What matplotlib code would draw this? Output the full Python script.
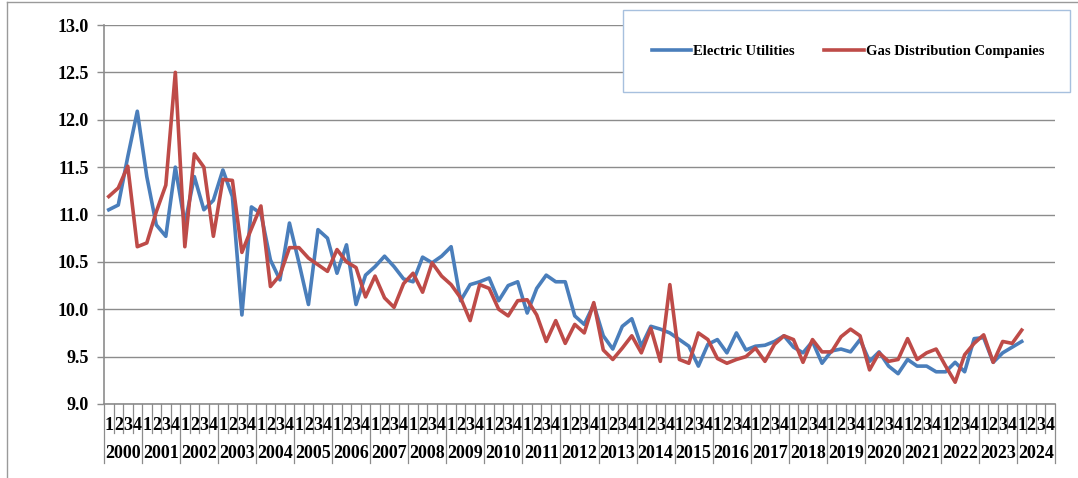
import matplotlib
matplotlib.use("Agg")
import matplotlib.pyplot as plt
from matplotlib.lines import Line2D
from matplotlib.patches import Rectangle
from matplotlib.transforms import blended_transform_factory

years = list(range(2000, 2025))
quarter_labels = ["1", "2", "3", "4"]

# Quarterly averages, 2000 Q1 through 2024 Q1
electric = [
    11.05, 11.10, 11.61, 12.09,
    11.40, 10.89, 10.77, 11.50,
    10.90, 11.40, 11.05, 11.15,
    11.47, 11.19, 9.94, 11.08,
    11.01, 10.52, 10.31, 10.91,
    10.49, 10.05, 10.84, 10.75,
    10.38, 10.68, 10.05, 10.36,
    10.45, 10.56, 10.45, 10.32,
    10.29, 10.55, 10.49, 10.56,
    10.66, 10.09, 10.26, 10.29,
    10.33, 10.09, 10.25, 10.29,
    9.96, 10.22, 10.36, 10.29,
    10.29, 9.93, 9.84, 10.05,
    9.72, 9.58, 9.82, 9.90,
    9.61, 9.82, 9.79, 9.75,
    9.68, 9.61, 9.40, 9.63,
    9.68, 9.54, 9.75, 9.57,
    9.61, 9.62, 9.66, 9.72,
    9.60, 9.54, 9.66, 9.43,
    9.56, 9.58, 9.55, 9.68,
    9.45, 9.55, 9.40, 9.32,
    9.47, 9.40, 9.40, 9.34,
    9.34, 9.44, 9.34, 9.69,
    9.70, 9.44, 9.54, 9.60,
    9.66,
]

gas = [
    11.19, 11.28, 11.51, 10.66,
    10.70, 11.03, 11.31, 12.50,
    10.66, 11.64, 11.50, 10.77,
    11.37, 11.36, 10.60, 10.85,
    11.09, 10.24, 10.36, 10.65,
    10.65, 10.54, 10.47, 10.40,
    10.63, 10.50, 10.44, 10.13,
    10.35, 10.12, 10.02, 10.27,
    10.38, 10.18, 10.49, 10.35,
    10.26, 10.12, 9.88, 10.26,
    10.22, 10.00, 9.93, 10.09,
    10.10, 9.94, 9.66, 9.88,
    9.64, 9.84, 9.75, 10.07,
    9.57, 9.47, 9.59, 9.72,
    9.54, 9.80, 9.45, 10.26,
    9.47, 9.43, 9.75, 9.68,
    9.48, 9.43, 9.47, 9.50,
    9.59, 9.45, 9.63, 9.72,
    9.68, 9.44, 9.68, 9.55,
    9.55, 9.71, 9.79, 9.72,
    9.36, 9.54, 9.45, 9.47,
    9.69, 9.47, 9.54, 9.58,
    9.40, 9.23, 9.52, 9.64,
    9.73, 9.44, 9.66, 9.64,
    9.78,
]

yticks = [9.0, 9.5, 10.0, 10.5, 11.0, 11.5, 12.0, 12.5, 13.0]

BLUE = "#4A7EBB"
RED = "#BE4B48"
GRID = "#8C8C8C"
SERIF = ["Liberation Serif", "DejaVu Serif"]

W, H = 1078, 478
fig = plt.figure(figsize=(W / 100, H / 100), dpi=100)
fig.patch.set_facecolor("white")

left, right, top, bottom = 104, 1055, 25, 404
ax = fig.add_axes([left / W, 1 - bottom / H, (right - left) / W, (bottom - top) / H])

n_cat = len(years) * 4
x = list(range(len(electric)))
ax.plot(x, electric, color=BLUE, lw=2.6, solid_joinstyle="round", label="Electric Utilities", zorder=3)
ax.plot(list(range(len(gas))), gas, color=RED, lw=2.6, solid_joinstyle="round", label="Gas Distribution Companies", zorder=3)

ax.set_xlim(-0.5, n_cat - 0.5)
ax.set_ylim(9.0, 13.0)
ax.set_yticks(yticks)
ax.set_yticklabels([f"{v:.1f}" for v in yticks], fontfamily=SERIF, fontweight="bold", fontsize=13)
ax.yaxis.grid(True, color=GRID, lw=1.0)
ax.set_axisbelow(True)
ax.tick_params(axis="y", length=5, width=1, color=GRID, pad=6)
ax.set_xticks([])
for s in ("top", "right"):
    ax.spines[s].set_visible(False)
for s in ("left", "bottom"):
    ax.spines[s].set_color(GRID)
    ax.spines[s].set_linewidth(1.2)

# Two-level category axis: quarter numbers above year labels
ax_h = bottom - top
trans = blended_transform_factory(ax.transData, ax.transAxes)
q_end = -(433 - bottom) / ax_h
y_end = -(463 - bottom) / ax_h
for k in range(n_cat + 1):
    yb = y_end if k % 4 == 0 else q_end
    ax.add_line(Line2D([k - 0.5, k - 0.5], [0, yb], transform=trans, color=GRID,
                       lw=0.9, clip_on=False))
q_y = -(425 - bottom) / ax_h
yr_y = -(453 - bottom) / ax_h
for yi, yr in enumerate(years):
    for qi, q in enumerate(quarter_labels):
        ax.text(yi * 4 + qi, q_y, q, transform=trans, ha="center", va="center",
                fontfamily=SERIF, fontweight="bold", fontsize=13)
    ax.text(yi * 4 + 1.5, yr_y, str(yr), transform=trans, ha="center", va="center",
            fontfamily=SERIF, fontweight="bold", fontsize=13)

# Legend in its own framed box
fig.add_artist(Rectangle((623 / W, 1 - 92 / H), (1070 - 623) / W, (92 - 10) / H,
                         transform=fig.transFigure, facecolor="white",
                         edgecolor="#A7C0DE", lw=1.0, zorder=5))
leg = fig.legend(loc="center", bbox_to_anchor=(848 / W, 1 - 51 / H), ncol=2,
                 frameon=False, handlelength=2.7, handletextpad=0.15,
                 columnspacing=2.0,
                 prop={"family": SERIF, "weight": "bold", "size": 10.5})
leg.set_zorder(6)

# Chart area border
fig.add_artist(Line2D([7 / W, 7 / W], [0, 1 - 1.5 / H], transform=fig.transFigure, color="#9A9A9A", lw=1.0))
fig.add_artist(Line2D([7 / W, 1], [1 - 1.5 / H, 1 - 1.5 / H], transform=fig.transFigure, color="#9A9A9A", lw=1.0))

fig.savefig("out.png", dpi=100, facecolor="white")
